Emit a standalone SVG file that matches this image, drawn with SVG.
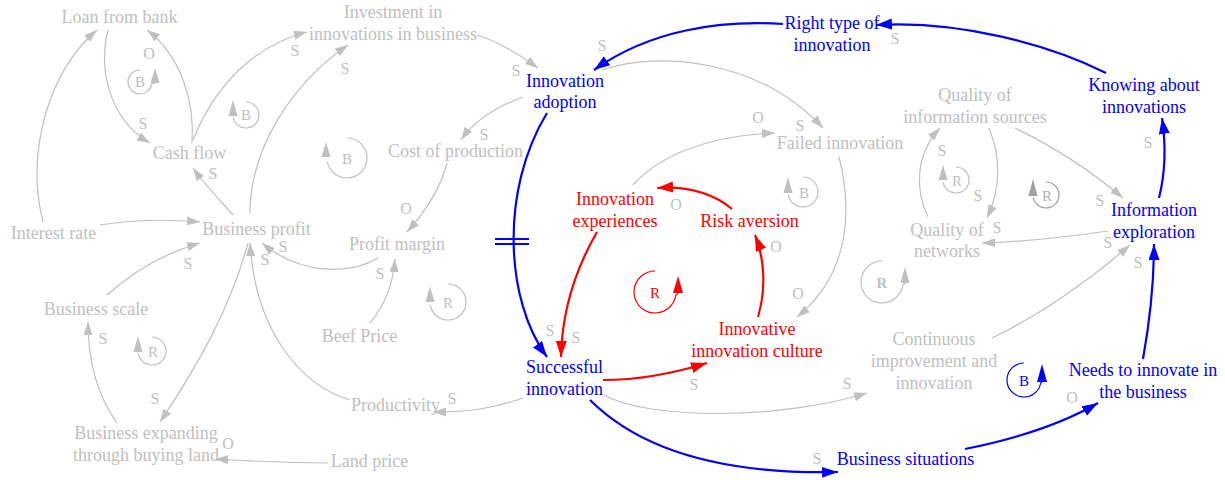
<svg xmlns="http://www.w3.org/2000/svg" width="1225" height="480" viewBox="0 0 1225 480">
<defs>
<style>
text{font-family:"Liberation Serif","Times New Roman",serif}
.n{font-size:18px;text-anchor:middle}
.g{fill:#c0c0c0}.bl{fill:#0000ff}.rd{fill:#ff0000}
.l{font-size:16px;fill:#c0c0c0;text-anchor:middle}
.e{fill:none;stroke:#c0c0c0;stroke-width:1.2;marker-end:url(#mg)}
.eb{fill:none;stroke:#0000ff;stroke-width:2.2;marker-end:url(#mb)}
.er{fill:none;stroke:#ff0000;stroke-width:2.2;marker-end:url(#mr)}
.lp{fill:none;stroke-width:1.2}
.lt{font-size:15px;text-anchor:middle}
</style>
<marker id="mg" markerUnits="userSpaceOnUse" markerWidth="14" markerHeight="10" refX="13" refY="4.5" orient="auto"><path d="M0,0L13,4.5L0,9z" fill="#c0c0c0"/></marker>
<marker id="mb" markerUnits="userSpaceOnUse" markerWidth="17" markerHeight="12" refX="16" refY="5.5" orient="auto"><path d="M0,0L16,5.5L0,11z" fill="#0000ff"/></marker>
<marker id="mr" markerUnits="userSpaceOnUse" markerWidth="17" markerHeight="12" refX="16" refY="5.5" orient="auto"><path d="M0,0L16,5.5L0,11z" fill="#ff0000"/></marker>
</defs>
<rect width="1225" height="480" fill="#ffffff"/>

<g id="connectors">
<path class="e" d="M108,30 C98,70 110,120 150,143"/>
<path class="e" d="M192,143 C195,100 180,55 147,30"/>
<path class="e" d="M43,222 C25,150 50,70 97,30"/>
<path class="e" d="M100,225 C130,220 165,219 200,222"/>
<path class="e" d="M233,215 C220,200 205,185 193,168"/>
<path class="e" d="M193,140 C215,85 255,45 307,32"/>
<path class="e" d="M250,213 C250,150 290,85 348,45"/>
<path class="e" d="M477,35 C500,42 520,55 538,68"/>
<path class="e" d="M523,97 C495,107 475,120 461,140"/>
<path class="e" d="M447,163 C440,190 425,212 407,232"/>
<path class="e" d="M378,258 C350,275 300,275 262,243"/>
<path class="e" d="M370,323 C385,305 393,285 395,259"/>
<path class="e" d="M107,295 C135,270 165,253 200,243"/>
<path class="e" d="M117,423 C97,395 88,360 88,322"/>
<path class="e" d="M248,243 C230,310 195,370 160,422"/>
<path class="e" d="M350,400 C300,385 255,330 250,243"/>
<path class="e" d="M328,463 C290,463 250,461 215,459"/>
<path class="e" d="M523,398 C495,408 470,412 433,412"/>
<path class="e" d="M602,70 C660,50 760,60 823,128"/>
<path class="e" d="M633,185 C660,155 710,135 775,133"/>
<path class="e" d="M839,157 C850,200 855,270 797,317"/>
<path class="e" d="M604,395 C650,420 780,420 867,393"/>
<path class="e" d="M992,338 C1040,315 1090,280 1130,245"/>
<path class="e" d="M1108,231 C1060,238 1020,242 982,243"/>
<path class="e" d="M928,217 C915,190 915,155 940,128"/>
<path class="e" d="M989,128 C1002,160 1000,190 987,218"/>
<path class="e" d="M1015,128 C1050,145 1090,170 1123,198"/>

<path class="eb" d="M1106,73 C1050,45 960,20 876,25"/>
<path class="eb" d="M783,24 C720,20 650,30 594,70"/>
<path class="eb" d="M1159,198 C1166,170 1166,145 1162,118"/>
<path class="eb" d="M1143,359 C1150,320 1154,280 1154,244"/>
<path class="eb" d="M965,449 C1010,440 1060,425 1098,403"/>
<path class="eb" d="M590,400 C630,440 700,475 838,472"/>
<path class="eb" d="M547,113 C500,190 505,300 547,357"/>
<path d="M495,239 H529 M495,244 H529" stroke="#0000ff" stroke-width="2" fill="none"/>

<path class="er" d="M732,209 C715,195 690,186 657,188"/>
<path class="er" d="M597,232 C575,270 562,310 561,357"/>
<path class="er" d="M603,380 C640,380 675,373 707,363"/>
<path class="er" d="M758,317 C766,290 765,260 755,235"/>

<g id="edge-labels">
<text class="l" x="143" y="129">S</text>
<text class="l" x="149" y="59">O</text>
<text class="l" x="213" y="179">S</text>
<text class="l" x="295" y="56">S</text>
<text class="l" x="345" y="74">S</text>
<text class="l" x="516" y="76">S</text>
<text class="l" x="602" y="51">S</text>
<text class="l" x="484" y="140">S</text>
<text class="l" x="406" y="214">O</text>
<text class="l" x="283" y="252">S</text>
<text class="l" x="265" y="265">S</text>
<text class="l" x="380" y="279">S</text>
<text class="l" x="188" y="269">S</text>
<text class="l" x="103" y="344">S</text>
<text class="l" x="155" y="404">S</text>
<text class="l" x="228" y="449">O</text>
<text class="l" x="452" y="404">S</text>
<text class="l" x="800" y="131">S</text>
<text class="l" x="758" y="123">O</text>
<text class="l" x="798" y="299">O</text>
<text class="l" x="847" y="389">S</text>
<text class="l" x="1108" y="248">S</text>
<text class="l" x="997" y="233">S</text>
<text class="l" x="942" y="156">S</text>
<text class="l" x="978" y="201">S</text>
<text class="l" x="1100" y="206">S</text>
<text class="l" x="1148" y="148">S</text>
<text class="l" x="1138" y="268">S</text>
<text class="l" x="895" y="44">S</text>
<text class="l" x="1072" y="403">O</text>
<text class="l" x="817" y="464">S</text>
<text class="l" x="550" y="336">S</text>
<text class="l" x="576" y="343">S</text>
<text class="l" x="694" y="390">S</text>
<text class="l" x="676" y="210">O</text>
<text class="l" x="776" y="252">O</text>
</g>
</g>

<g id="loops">
<g id="loop1"><path class="lp" stroke="#c0c0c0" d="M140,70 A12,12 0 1 0 151.8,84.1 L155,83"/><polygon points="150.5,83 159.5,83 155,68" fill="#c0c0c0"/><text class="lt g" x="140" y="87">B</text></g>
<g id="loop2"><path class="lp" stroke="#c0c0c0" d="M246,102 A13,13 0 1 1 233.2,117.3"/><polygon points="228.5,116 237.5,116 233,100" fill="#c0c0c0"/><text class="lt g" x="246" y="120">B</text></g>
<g id="loop3"><path class="lp" stroke="#c0c0c0" d="M347,138 A20,20 0 1 1 327.3,161.5"/><polygon points="321.5,157 330.5,157 326,142" fill="#c0c0c0"/><text class="lt g" x="347" y="164" font-size="16">B</text></g>
<g id="loop4"><path class="lp" stroke="#c0c0c0" d="M448,284 A18,18 0 1 1 430.3,305.1"/><polygon points="425.5,302 434.5,302 430,286" fill="#c0c0c0"/><text class="lt g" x="448" y="308" font-size="16">R</text></g>
<g id="loop5"><path class="lp" stroke="#c0c0c0" d="M152,337 A14,14 0 1 1 138.2,353.4"/><polygon points="133.5,352 142.5,352 138,336" fill="#c0c0c0"/><text class="lt g" x="153" y="357">R</text></g>
<g id="loop6"><path class="lp" stroke="#c0c0c0" d="M803,177 A15,15 0 1 1 788.2,194.6"/><polygon points="783.5,193 792.5,193 788,177" fill="#c0c0c0"/><text class="lt g" x="804" y="198">B</text></g>
<g id="loop7"><path class="lp" stroke="#ff0000" d="M655,271 A21,21 0 1 0 675.7,295.6 L678,293"/><polygon points="673,293 683,293 678,276" fill="#ff0000"/><text class="lt rd" x="655" y="298" font-size="16">R</text></g>
<g id="loop8"><path class="lp" stroke="#c0c0c0" d="M956,167 A13,13 0 1 1 943.2,182.3"/><polygon points="938.5,180 947.5,180 943,165" fill="#c0c0c0"/><text class="lt g" x="957" y="186">R</text></g>
<g id="loop9"><path class="lp" stroke="#a0a0a0" d="M1046,182 A13,13 0 1 1 1033.2,197.3"/><polygon points="1028.5,196 1037.5,196 1033,179" fill="#a0a0a0"/><text class="lt" fill="#b0b0b0" x="1047" y="201">R</text></g>
<g id="loop10"><path class="lp" stroke="#c0c0c0" d="M882,261 A21,21 0 1 0 902.7,285.6 L905,283"/><polygon points="900.5,283 909.5,283 905,267" fill="#c0c0c0"/><text class="lt g" x="882" y="288" font-weight="bold" font-size="17">R</text></g>
<g id="loop11"><path class="lp" stroke="#0000ff" d="M1024,363 A17,17 0 1 0 1040.7,383 L1042,382"/><polygon points="1037,382 1047,382 1042,364" fill="#0000ff"/><text class="lt bl" x="1024" y="386" font-size="16">B</text></g>
</g>

<g id="loan"><text class="n g" x="119.5" y="23">Loan from bank</text></g>
<g id="cashflow"><text class="n g" x="189.5" y="159">Cash flow</text></g>
<g id="interest"><text class="n g" x="53.5" y="239">Interest rate</text></g>
<g id="profit"><text class="n g" x="256.5" y="235">Business profit</text></g>
<g id="investment"><text class="n g" x="393" y="18">Investment in<tspan x="393" dy="22">innovations in business</tspan></text></g>
<g id="adoption"><text class="n bl" x="565" y="87">Innovation<tspan x="565" dy="21">adoption</tspan></text></g>
<g id="cost"><text class="n g" x="455.5" y="157">Cost of production</text></g>
<g id="margin"><text class="n g" x="397" y="250">Profit margin</text></g>
<g id="scale"><text class="n g" x="96" y="315">Business scale</text></g>
<g id="beef"><text class="n g" x="359.5" y="342">Beef Price</text></g>
<g id="expanding"><text class="n g" x="146" y="439">Business expanding<tspan x="146" dy="22">through buying land</tspan></text></g>
<g id="land"><text class="n g" x="369.5" y="467">Land price</text></g>
<g id="productivity"><text class="n g" x="395.5" y="411">Productivity</text></g>
<g id="successful"><text class="n bl" x="564.5" y="373">Successful<tspan x="564.5" dy="22">innovation</tspan></text></g>
<g id="failed"><text class="n g" x="840" y="149">Failed innovation</text></g>
<g id="righttype"><text class="n bl" x="832" y="29">Right type of<tspan x="832" dy="22">innovation</tspan></text></g>
<g id="experiences"><text class="n rd" x="615" y="205">Innovation<tspan x="615" dy="22">experiences</tspan></text></g>
<g id="risk"><text class="n rd" x="749.5" y="227">Risk aversion</text></g>
<g id="culture"><text class="n rd" x="757" y="335">Innovative<tspan x="757" dy="22">innovation culture</tspan></text></g>
<g id="continuous"><text class="n g" x="934" y="345">Continuous<tspan x="934" dy="22">improvement and</tspan><tspan x="934" dy="22">innovation</tspan></text></g>
<g id="situations"><text class="n bl" x="905.5" y="465">Business situations</text></g>
<g id="needs"><text class="n bl" x="1143" y="376">Needs to innovate in<tspan x="1143" dy="22">the business</tspan></text></g>
<g id="exploration"><text class="n bl" x="1154" y="216">Information<tspan x="1154" dy="22">exploration</tspan></text></g>
<g id="knowing"><text class="n bl" x="1144" y="91">Knowing about<tspan x="1144" dy="22">innovations</tspan></text></g>
<g id="sources"><text class="n g" x="975" y="101">Quality of<tspan x="975" dy="22">information sources</tspan></text></g>
<g id="networks"><text class="n g" x="947" y="236">Quality of<tspan x="947" dy="21">networks</tspan></text></g>
</svg>
